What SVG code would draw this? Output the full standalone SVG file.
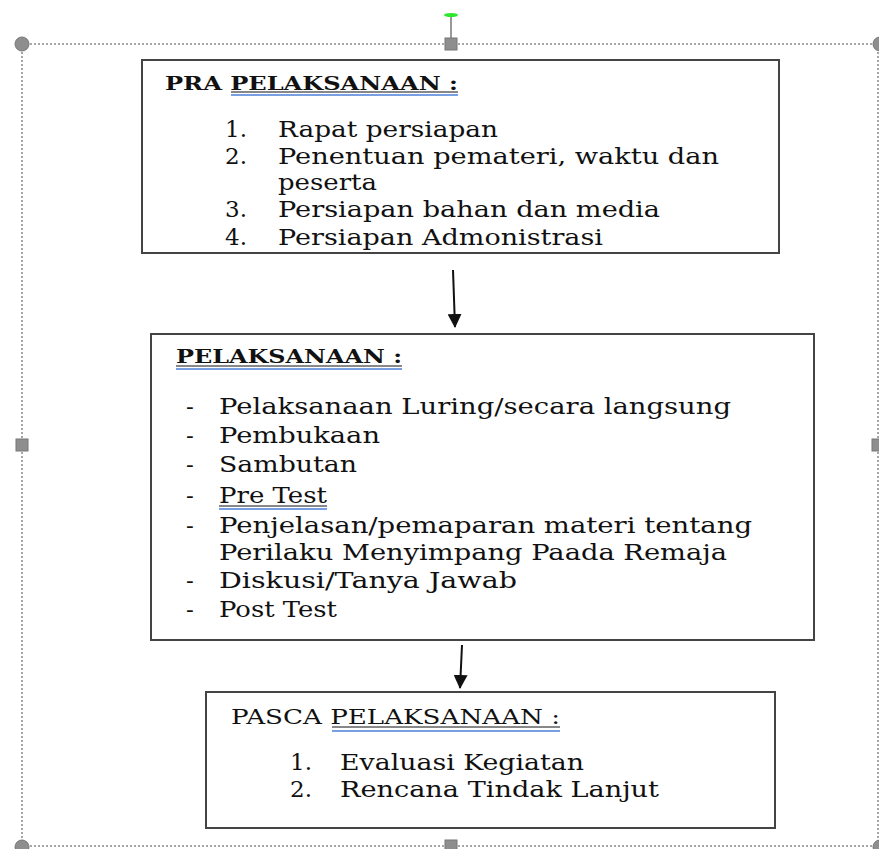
<svg xmlns="http://www.w3.org/2000/svg" width="879" height="849" viewBox="0 0 879 849">
<defs>
<style>
.box{fill:#fff;stroke:#444;stroke-width:2}
.t{font-family:"DejaVu Serif","Liberation Serif",serif;font-size:23px;fill:#111}
.h{font-family:"DejaVu Serif","Liberation Serif",serif;font-size:19px;font-weight:bold;fill:#111}
.hr{font-family:"DejaVu Serif","Liberation Serif",serif;font-size:20px;fill:#111}
.ul{stroke:#111;stroke-width:1}
.bl{stroke:#4a7fd8;stroke-width:1.5}
.sel{fill:none;stroke:#8a8a8a;stroke-width:1.5;stroke-dasharray:2 2}
.hdl{fill:#8e8e8e;stroke:#777;stroke-width:1}
.conn{stroke:#111;stroke-width:2;fill:none}
</style>
<marker id="ah" markerWidth="14" markerHeight="14" refX="13" refY="7" orient="auto" markerUnits="userSpaceOnUse">
<path d="M0,0 L14,7 L0,14 Z" fill="#111"/>
</marker>
<clipPath id="c1"><rect x="142" y="60" width="637" height="190"/></clipPath>
</defs>

<g id="selection">
<line class="sel" x1="22" y1="44" x2="879" y2="44"/>
<line class="sel" x1="22" y1="44" x2="22" y2="846"/>
<line class="sel" x1="22" y1="846" x2="879" y2="846"/>
<line class="sel" x1="878" y1="44" x2="878" y2="846"/>
<line x1="451" y1="16" x2="451" y2="38" stroke="#777" stroke-width="1.5"/>
<ellipse cx="451" cy="15" rx="7" ry="2" fill="#2ee82e"/>
<rect class="hdl" x="445" y="38" width="12" height="12"/>
<rect class="hdl" x="16" y="439" width="12" height="12"/>
<rect class="hdl" x="872" y="439" width="12" height="12"/>
<rect class="hdl" x="445" y="840" width="12" height="12"/>
<circle class="hdl" cx="22" cy="44" r="7"/>
<circle class="hdl" cx="880" cy="44" r="7"/>
<circle class="hdl" cx="22" cy="847" r="7"/>
<circle class="hdl" cx="880" cy="847" r="7"/>
</g>

<g id="connectors">
<line class="conn" x1="453" y1="270" x2="455" y2="327" marker-end="url(#ah)"/>
<line class="conn" x1="462" y1="645" x2="460" y2="688" marker-end="url(#ah)"/>
</g>

<g id="pra">
<rect class="box" x="142" y="60" width="637" height="193"/>
<g clip-path="url(#c1)">
<text class="h" x="165" y="90" textLength="293" lengthAdjust="spacingAndGlyphs">PRA PELAKSANAAN :</text>
<line class="ul" x1="231" y1="92" x2="458" y2="92"/>
<line class="bl" x1="231" y1="95" x2="458" y2="95"/>
<text class="t" x="225" y="137">1.</text>
<text class="t" x="278" y="137" textLength="220" lengthAdjust="spacingAndGlyphs">Rapat persiapan</text>
<text class="t" x="225" y="164">2.</text>
<text class="t" x="278" y="164" textLength="441" lengthAdjust="spacingAndGlyphs">Penentuan pemateri, waktu dan</text>
<text class="t" x="278" y="190" textLength="99" lengthAdjust="spacingAndGlyphs">peserta</text>
<text class="t" x="225" y="217">3.</text>
<text class="t" x="278" y="217" textLength="382" lengthAdjust="spacingAndGlyphs">Persiapan bahan dan media</text>
<text class="t" x="225" y="245">4.</text>
<text class="t" x="278" y="245" textLength="325" lengthAdjust="spacingAndGlyphs">Persiapan Admonistrasi</text>
</g>
</g>

<g id="pelaksanaan">
<rect class="box" x="151" y="334" width="663" height="306"/>
<text class="h" x="176" y="363" textLength="226" lengthAdjust="spacingAndGlyphs">PELAKSANAAN :</text>
<line class="ul" x1="176" y1="366" x2="402" y2="366"/>
<line class="bl" x1="176" y1="369" x2="402" y2="369"/>
<text class="t" x="186" y="414">-</text>
<text class="t" x="219" y="414" textLength="512" lengthAdjust="spacingAndGlyphs">Pelaksanaan Luring/secara langsung</text>
<text class="t" x="186" y="443">-</text>
<text class="t" x="219" y="443" textLength="161" lengthAdjust="spacingAndGlyphs">Pembukaan</text>
<text class="t" x="186" y="472">-</text>
<text class="t" x="219" y="472" textLength="138" lengthAdjust="spacingAndGlyphs">Sambutan</text>
<text class="t" x="186" y="503">-</text>
<text class="t" x="219" y="503" textLength="108" lengthAdjust="spacingAndGlyphs">Pre Test</text>
<line class="ul" x1="219" y1="506" x2="327" y2="506"/>
<line class="bl" x1="219" y1="509" x2="327" y2="509"/>
<text class="t" x="186" y="533">-</text>
<text class="t" x="219" y="533" textLength="533" lengthAdjust="spacingAndGlyphs">Penjelasan/pemaparan materi tentang</text>
<text class="t" x="219" y="560" textLength="508" lengthAdjust="spacingAndGlyphs">Perilaku Menyimpang Paada Remaja</text>
<text class="t" x="186" y="588">-</text>
<text class="t" x="219" y="588" textLength="298" lengthAdjust="spacingAndGlyphs">Diskusi/Tanya Jawab</text>
<text class="t" x="186" y="617">-</text>
<text class="t" x="219" y="617" textLength="118" lengthAdjust="spacingAndGlyphs">Post Test</text>
</g>

<g id="pasca">
<rect class="box" x="206" y="692" width="569" height="136"/>
<text class="hr" x="231" y="724" textLength="329" lengthAdjust="spacingAndGlyphs">PASCA PELAKSANAAN :</text>
<line class="ul" x1="332" y1="727" x2="560" y2="727"/>
<line class="bl" x1="332" y1="731" x2="560" y2="731"/>
<text class="t" x="290" y="770">1.</text>
<text class="t" x="340" y="770" textLength="244" lengthAdjust="spacingAndGlyphs">Evaluasi Kegiatan</text>
<text class="t" x="290" y="797">2.</text>
<text class="t" x="340" y="797" textLength="319" lengthAdjust="spacingAndGlyphs">Rencana Tindak Lanjut</text>
</g>
</svg>
